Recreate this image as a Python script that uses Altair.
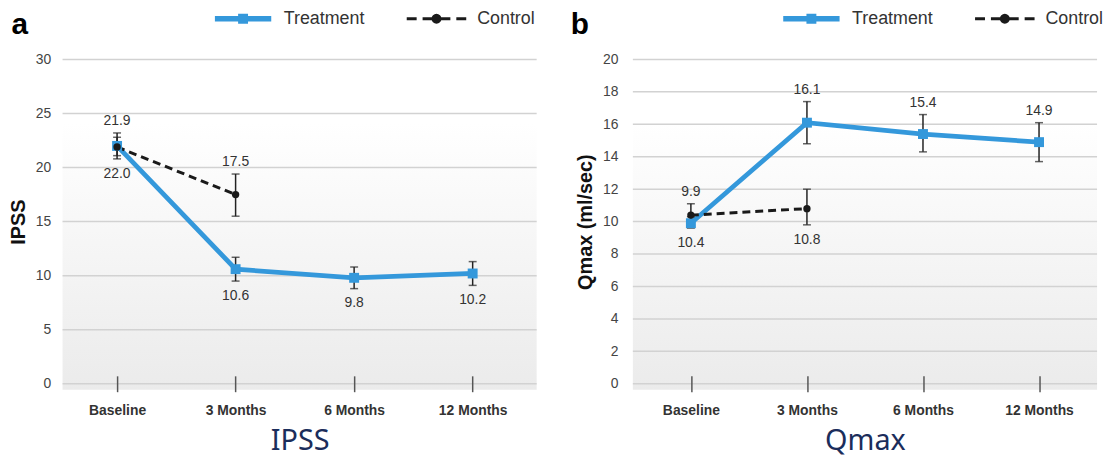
import math
import altair as alt
import pandas as pd

# ---------------- data ----------------
times = ["Baseline", "3 Months", "6 Months", "12 Months"]
series_names = ["Treatment", "Control"]

ipss_treat = [22.0, 10.6, 9.8, 10.2]
ipss_treat_lo = [20.8, 9.5, 8.8, 9.1]
ipss_treat_hi = [23.2, 11.7, 10.8, 11.3]
ipss_ctrl = [21.9, 17.5]
ipss_ctrl_lo = [21.1, 15.5]
ipss_ctrl_hi = [22.8, 19.4]

qmax_treat = [9.9, 16.1, 15.4, 14.9]
qmax_treat_lo = [9.6, 14.8, 14.3, 13.7]
qmax_treat_hi = [10.3, 17.4, 16.6, 16.1]
qmax_ctrl = [10.4, 10.8]
qmax_ctrl_lo = [9.7, 9.8]
qmax_ctrl_hi = [11.1, 12.0]

ipss_ticks = [0, 5, 10, 15, 20, 25, 30]
qmax_ticks = [0, 2, 4, 6, 8, 10, 12, 14, 16, 18, 20]

# ---------------- style ----------------
BLUE = "#3498db"
BLACK = "#1a1a1a"
H = 327
FONT = "Liberation Sans"


def rect_path(x0, x1, h):
    return f"M{x0},{-h}H{x1}V{h}H{x0}Z"


def circle_path(r, n=16):
    pts = [(r * math.cos(2 * math.pi * i / n), r * math.sin(2 * math.pi * i / n)) for i in range(n)]
    return "M" + "L".join(f"{x:.3f},{y:.3f}" for x, y in pts) + "Z"


# legend symbols (unit = 4 px, symbolSize 64)
treat_sym = rect_path(-7.1, -1.25, 0.7) + rect_path(-1.25, 1.25, 1.25) + rect_path(1.25, 7.1, 0.7)
ctrl_sym = (rect_path(-7.5, -5.0, 0.38) + rect_path(-3.5, -1.1, 0.38) + circle_path(1.25)
            + rect_path(1.1, 3.5, 0.38) + rect_path(5.0, 7.5, 0.38))


def build_df(tv, tlo, thi, cv, clo, chi):
    rows = []
    for i, t in enumerate(times):
        rows.append(dict(time=t, series="Treatment", value=tv[i], lo=tlo[i], hi=thi[i]))
    for i, v in enumerate(cv):
        rows.append(dict(time=times[i], series="Control", value=v, lo=clo[i], hi=chi[i]))
    df = pd.DataFrame(rows)
    df["label"] = df["value"].map(lambda v: f"{v:.1f}")
    df["top"] = df.groupby("time")["hi"].transform("max")
    df["bottom"] = df.groupby("time")["lo"].transform("min")
    return df


def panel(letter, ytitle, xtitle, ymax, ticks, df, treat_above, W, align, legend_x, label_pad, title_dx):
    xscale = alt.Scale(type="point", domain=times, padding=0.5, align=align)
    yscale = alt.Scale(domain=[0, ymax], nice=False, zero=True)
    xaxis = alt.Axis(
        title=xtitle, titleFont="Noto Sans", titleFontSize=29, titleFontWeight="normal",
        titleColor="#1b2d5b", titlePadding=9,
        labelFont=FONT, labelFontSize=14, labelFontWeight="bold", labelColor="#333333",
        labelPadding=12, labelAngle=0,
        domain=False, ticks=True, tickSize=16, tickColor="#555555", tickWidth=1.5,
        offset=-8, zindex=1,
    )
    yaxis = alt.Axis(
        title=ytitle, titleFont=FONT, titleFontSize=20, titleFontWeight="bold", titleColor="#111111",
        titlePadding=7, values=ticks, labelFont=FONT, labelFontSize=14, labelColor="#444444",
        labelPadding=label_pad, domain=False, ticks=False, grid=False,
    )
    xenc = alt.X("time:N", scale=xscale, sort=times, axis=xaxis)
    yenc = alt.Y("value:Q", scale=yscale, axis=yaxis)

    bg = alt.Chart(pd.DataFrame({"d": [0]})).mark_rect(
        color=alt.LinearGradient(
            gradient="linear", x1=0, x2=0, y1=0, y2=1,
            stops=[alt.GradientStop(color="#ffffff", offset=0),
                   alt.GradientStop(color="#ebebeb", offset=1)],
        )
    ).encode(x=alt.value(0), x2=alt.value(W), y=alt.value(64), y2=alt.value(H + 6))

    grid = alt.Chart(pd.DataFrame({"v": ticks})).mark_rule(color="#d2d2d2", strokeWidth=1.5).encode(
        y=alt.Y("v:Q", scale=yscale, axis=yaxis)
    )

    base = alt.Chart(df)
    treat = base.transform_filter(alt.datum.series == "Treatment")
    ctrl = base.transform_filter(alt.datum.series == "Control")

    line_t = treat.mark_line(color=BLUE, strokeWidth=4.8).encode(x=xenc, y=yenc)
    line_c = ctrl.mark_line(color=BLACK, strokeWidth=3, strokeDash=[8, 5]).encode(x=xenc, y=yenc)

    err = base.mark_rule(color="#222222", strokeWidth=1.5).encode(
        x=xenc, y=alt.Y("lo:Q", scale=yscale, axis=yaxis), y2="hi:Q")
    cap_lo = base.mark_tick(color="#222222", size=8, thickness=1.5, orient="horizontal").encode(
        x=xenc, y=alt.Y("lo:Q", scale=yscale, axis=yaxis))
    cap_hi = base.mark_tick(color="#222222", size=8, thickness=1.5, orient="horizontal").encode(
        x=xenc, y=alt.Y("hi:Q", scale=yscale, axis=yaxis))

    pt_t = treat.mark_square(color=BLUE, size=100, opacity=1).encode(x=xenc, y=yenc)
    pt_c = ctrl.mark_circle(color=BLACK, size=55, opacity=1).encode(x=xenc, y=yenc)

    above_dy, below_dy = -12, 15
    t_field, t_dy = ("top", above_dy) if treat_above else ("bottom", below_dy)
    c_field, c_dy = ("bottom", below_dy) if treat_above else ("top", above_dy)
    txt_t = treat.mark_text(font=FONT, fontSize=14, color="#333333", dy=t_dy, baseline="middle").encode(
        x=xenc, y=alt.Y(f"{t_field}:Q", scale=yscale, axis=yaxis), text="label:N")
    txt_c = ctrl.mark_text(font=FONT, fontSize=14, color="#333333", dy=c_dy, baseline="middle").encode(
        x=xenc, y=alt.Y(f"{c_field}:Q", scale=yscale, axis=yaxis), text="label:N")

    leg = alt.Legend(
        title=None, orient="none", legendX=legend_x, legendY=-50, direction="horizontal",
        labelFont=FONT, labelFontSize=18, labelColor="#333333", symbolSize=64,
        symbolStrokeWidth=0, labelOffset=32, columnPadding=42, symbolOpacity=1,
    )
    legend_layer = base.transform_filter("false").mark_point(filled=True, opacity=1).encode(
        x=xenc, y=yenc,
        color=alt.Color("series:N", scale=alt.Scale(domain=series_names, range=[BLUE, BLACK]), legend=leg),
        shape=alt.Shape("series:N", scale=alt.Scale(domain=series_names, range=[treat_sym, ctrl_sym]), legend=leg),
    )

    return alt.layer(
        bg, grid, line_t, line_c, err, cap_lo, cap_hi, pt_t, pt_c, txt_t, txt_c, legend_layer
    ).properties(
        width=W, height=H,
        title=alt.TitleParams(letter, anchor="start", fontSize=30, fontWeight="bold", font=FONT,
                              color="#000000", offset=0, dx=title_dx, dy=30),
    )


df_ipss = build_df(ipss_treat, ipss_treat_lo, ipss_treat_hi, ipss_ctrl, ipss_ctrl_lo, ipss_ctrl_hi)
df_qmax = build_df(qmax_treat, qmax_treat_lo, qmax_treat_hi, qmax_ctrl, qmax_ctrl_lo, qmax_ctrl_hi)

pa = panel("a", "IPSS", "IPSS", 30, ipss_ticks, df_ipss, False, 478, 0.46, 173, 12, 3)
pb = panel("b", "Qmax (ml/sec)", "Qmax", 20, qmax_ticks, df_qmax, True, 468, 0.5, 171, 15, -5)

chart = alt.hconcat(pa, pb, spacing=33).resolve_scale(
    color="independent", shape="independent", x="independent", y="independent"
).resolve_legend(color="independent", shape="independent").properties(
    padding={"left": 0, "top": 0, "right": 0, "bottom": 3}
).configure_view(stroke=None)

chart.save("out.html", embed_options={"renderer": "svg", "actions": False})
